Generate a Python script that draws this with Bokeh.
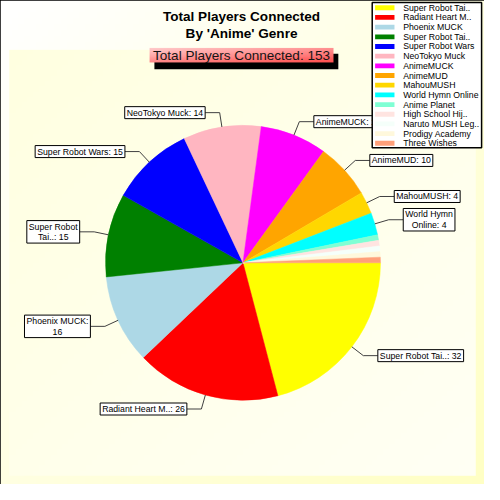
import numpy as np
from bokeh.plotting import figure
from bokeh.models import Range1d, ColumnDataSource
from bokeh.embed import file_html
from bokeh.resources import INLINE
from bokeh.core.properties import value

# ---------------- data ----------------
names = ["Super Robot Tai..", "Radiant Heart M..", "Phoenix MUCK", "Super Robot Tai..",
         "Super Robot Wars", "NeoTokyo Muck", "AnimeMUCK", "AnimeMUD", "MahouMUSH",
         "World Hymn Online", "Anime Planet", "High School Hij..", "Naruto MUSH Leg..",
         "Prodigy Academy", "Three Wishes"]
players = [32, 26, 16, 15, 15, 14, 12, 10, 4, 4, 1, 1, 1, 1, 1]
colors = ["#FFFF00", "#FF0000", "#ADD8E6", "#008000", "#0000FF", "#FFB6C1", "#FF00FF",
          "#FFA500", "#FFD700", "#00FFFF", "#7FFFD4", "#FFE4E1", "#F5FFFA", "#FFF8DC",
          "#FFA07A"]
slice_labels = ["Super Robot Tai..: 32", "Radiant Heart M..: 26", "Phoenix MUCK:\n16",
                "Super Robot\nTai..: 15", "Super Robot Wars: 15", "NeoTokyo Muck: 14",
                "AnimeMUCK: 12", "AnimeMUD: 10", "MahouMUSH: 4", "World Hymn\nOnline: 4",
                "", "", "", "", ""]
title_text = "Total Players Connected\nBy 'Anime' Genre"
subtitle_prefix = "Total Players Connected: "

# ---------------- layout ----------------
W = 484
K = W / 500.0          # px per data unit
FONT = "Liberation Sans"
def fs(px):
    return "%.2fpx" % (px * K)
def Y(ry):
    return 500 - ry

CX, CY, R = 250.5, Y(271), 142.0
LEAD_R, LEAD_H = 15.0, 15.0

p = figure(width=W, height=W, x_range=Range1d(0, 500), y_range=Range1d(0, 500),
           output_backend="svg", toolbar_location=None, min_border=0)
p.axis.visible = False
p.grid.visible = False
p.outline_line_color = "black"
p.outline_line_width = 1.5
p.background_fill_color = "white"
p.border_fill_color = "white"

def gradient(n, m, c0, c1, wx=0.5, wy=0.5):
    img = np.empty((n, m), dtype=np.uint32)
    v = img.view(dtype=np.uint8).reshape((n, m, 4))
    cols = np.arange(m)[None, :] / (m - 1)
    rows = (n - 1 - np.arange(n))[:, None] / (n - 1)   # 0 at top
    t = wx * cols + wy * rows
    t = t / (wx + wy)
    for k in range(3):
        v[:, :, k] = np.round(c0[k] + (c1[k] - c0[k]) * t).astype(np.uint8)
    v[:, :, 3] = 255
    return img

# outer and inner backgrounds
p.image_rgba(image=[gradient(80, 80, (255, 255, 255), (255, 255, 196))], x=0, y=0, dw=500, dh=500)
p.image_rgba(image=[gradient(80, 80, (255, 255, 224), (255, 255, 244))],
             x=9, y=Y(491), dw=482, dh=440)

# ---------------- pie ----------------
total = sum(players)
cum = np.concatenate([[0.0], np.cumsum(players)]) / total * 2 * np.pi
src = ColumnDataSource(dict(start=-cum[1:], end=-cum[:-1], color=colors))
p.wedge(x=CX, y=CY, radius=R, start_angle="start", end_angle="end",
        fill_color="color", line_color="color", line_width=0.5, source=src)

# ---------------- slice labels ----------------
mid = (cum[1:] + cum[:-1]) / 2
lx, ly, ltxt, rx, ry, rtxt = [], [], [], [], [], []
xs, ys = [], []
for i, lab in enumerate(slice_labels):
    if not lab:
        continue
    m = mid[i]
    ex, ey = CX + R * np.cos(m), CY - R * np.sin(m)
    bx, by = CX + (R + LEAD_R) * np.cos(m), CY - (R + LEAD_R) * np.sin(m)
    right = np.cos(m) >= 0
    tx = bx + (LEAD_H if right else -LEAD_H)
    xs.append([ex, bx, tx]); ys.append([ey, by, by])
    if right:
        rx.append(tx); ry.append(by); rtxt.append(lab)
    else:
        lx.append(tx); ly.append(by); ltxt.append(lab)

p.multi_line(xs=xs, ys=ys, line_color="#404040", line_width=1)
common = dict(text_font=value(FONT), text_font_size=fs(9), text_color="black",
              text_align="center", text_baseline="middle", text_line_height=1.05,
              background_fill_color="white", border_line_color="black",
              border_line_width=1, padding=(2, 1))
p.text(x=lx, y=ly, text=ltxt, anchor="center_right", **common)
p.text(x=rx, y=ry, text=rtxt, anchor="center_left", **common)

# ---------------- title & subtitle ----------------
p.text(x=[249], y=[Y(25)], text=[title_text], text_font=value(FONT), text_font_size=fs(14),
       text_font_style="bold", text_color="black", text_align="center",
       text_baseline="middle", text_line_height=1.15)

p.quad(left=159, right=349, top=Y(55), bottom=Y(71), fill_color="black", line_color=None)
p.image_rgba(image=[gradient(16, 64, (255, 206, 206), (255, 80, 80), 0.45, 0.55)],
             x=154, y=Y(64), dw=190, dh=15)
p.text(x=[249], y=[Y(56.5)], text=[subtitle_prefix + str(total)], text_font=value(FONT),
       text_font_size=fs(14), text_color="#151515", text_align="center",
       text_baseline="middle")

# ---------------- legend ----------------
n = len(names)
p.quad(left=384, right=497, top=Y(2), bottom=Y(152), fill_color="white",
       line_color="black", line_width=1.5)
rows = np.arange(n)
leg_y = [Y(7.5 + 10 * i) for i in rows]
p.rect(x=[397] * n, y=leg_y, width=20, height=5, fill_color=colors, line_color=None)
p.text(x=[416] * n, y=leg_y, text=names, text_font=value(FONT), text_font_size=fs(9),
       text_color="black", text_align="left", text_baseline="middle")

open("out.html", "w").write(file_html(p, INLINE))
